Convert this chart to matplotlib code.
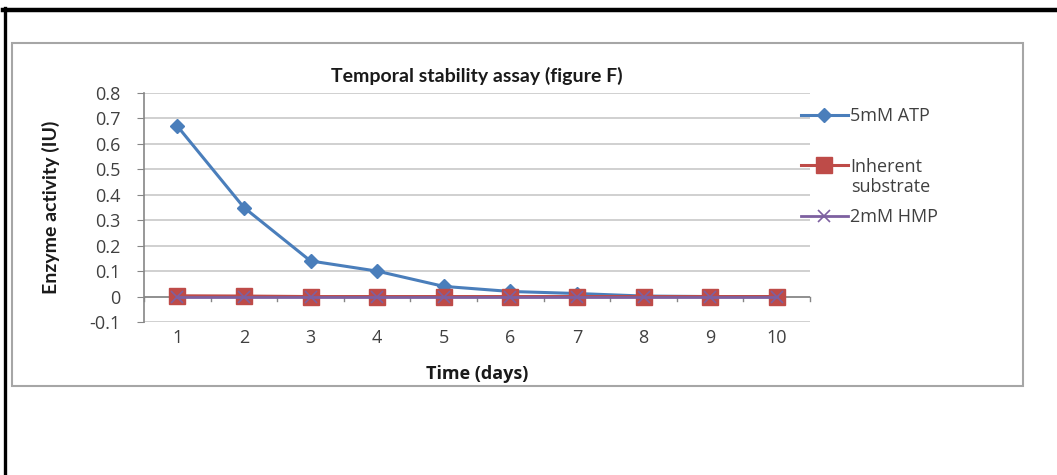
import matplotlib
matplotlib.use("Agg")
import matplotlib.pyplot as plt
from matplotlib.patches import Rectangle
from matplotlib.lines import Line2D

days = [1, 2, 3, 4, 5, 6, 7, 8, 9, 10]
atp_5mm = [0.67, 0.35, 0.14, 0.10, 0.04, 0.02, 0.012, 0.002, 0.0, 0.0]
inherent = [0.003, 0.002, 0.0, 0.0, 0.0, 0.0, 0.0, 0.0, 0.0, 0.0]
hmp_2mm = [0.0, 0.0, 0.0, 0.0, 0.0, 0.0, 0.0, 0.0, 0.0, 0.0]
y_ticks = [-0.1, 0, 0.1, 0.2, 0.3, 0.4, 0.5, 0.6, 0.7, 0.8]
y_tick_labels = ['-0.1', '0', '0.1', '0.2', '0.3', '0.4', '0.5', '0.6', '0.7', '0.8']

plt.rcParams['font.family'] = ['Open Sans', 'DejaVu Sans']
LATO = ['Lato', 'DejaVu Sans']

W, H = 1057, 475
fig = plt.figure(figsize=(W / 100, H / 100), dpi=100)

def fx(x):
    return x / W

def fy(y):
    return 1 - y / H

# outer black frame lines
fig.add_artist(Line2D([fx(3), fx(1057)], [fy(10), fy(10)], color='black', lw=3.2))
fig.add_artist(Line2D([fx(4.5), fx(4.5)], [fy(8), fy(475)], color='black', lw=2.4))
# chart area box
fig.add_artist(Rectangle((fx(12), fy(386)), fx(1023 - 12), (386 - 43) / H,
                         fill=False, edgecolor='#a6a6a6', lw=1.5))

ax = fig.add_axes([fx(144), fy(322), fx(810 - 144), (322 - 93) / H])
ax.plot(days, atp_5mm, color='#4a7ebb', lw=2.2, marker='D', ms=7, label='5mM ATP')
ax.plot(days, inherent, color='#be4b48', lw=2.2, marker='s', ms=11, label='Inherent')
ax.plot(days, hmp_2mm, color='#7d60a0', lw=2.0, marker='x', ms=8, mew=1.2, label='2mM HMP')

ax.set_xlim(0.5, 10.5)
ax.set_ylim(-0.1, 0.8)
ax.set_yticks(y_ticks)
ax.set_yticklabels(y_tick_labels)
ax.set_xticks(days)
ax.set_xticklabels([str(d) for d in days])
ax.tick_params(axis='x', length=0, pad=5, labelsize=13, labelcolor='#404040')
ax.tick_params(axis='y', length=5, direction='out', color='#868686', labelsize=13,
               labelcolor='#404040', pad=12)
ax.grid(axis='y', color='#c8c8c8', lw=1.2)
ax.set_axisbelow(True)
for s in ['top', 'right', 'bottom']:
    ax.spines[s].set_visible(False)
ax.spines['left'].set_color('#868686')
ax.spines['left'].set_linewidth(1.2)

# horizontal axis line at zero with category-boundary tick marks
ax.axhline(0, color='#868686', lw=1.2, zorder=1)
for b in [i + 0.5 for i in range(0, 11)]:
    ax.plot([b, b], [0, -0.018], color='#868686', lw=1.0, zorder=1, clip_on=False)

ax.set_title('Temporal stability assay (figure F)', fontsize=14, fontweight='bold',
             color='#1a1a1a', pad=8, family=LATO)
ax.set_xlabel('Time (days)', fontsize=13, fontweight='bold', color='#1a1a1a', labelpad=13)
ax.set_ylabel('Enzyme activity (IU)', fontsize=14, fontweight='bold', color='#1a1a1a',
              labelpad=21, family=LATO)

leg = fig.legend(loc='upper left', bbox_to_anchor=(fx(801), fy(107)),
                 frameon=False, fontsize=13, handlelength=2.6, handletextpad=0.1,
                 labelspacing=1.8, borderaxespad=0, borderpad=0)
for t in leg.get_texts():
    t.set_color('#404040')
fig.text(fx(851), fy(187), 'substrate', fontsize=13, color='#404040',
         ha='left', va='center')

fig.savefig('out.png', dpi=100)
